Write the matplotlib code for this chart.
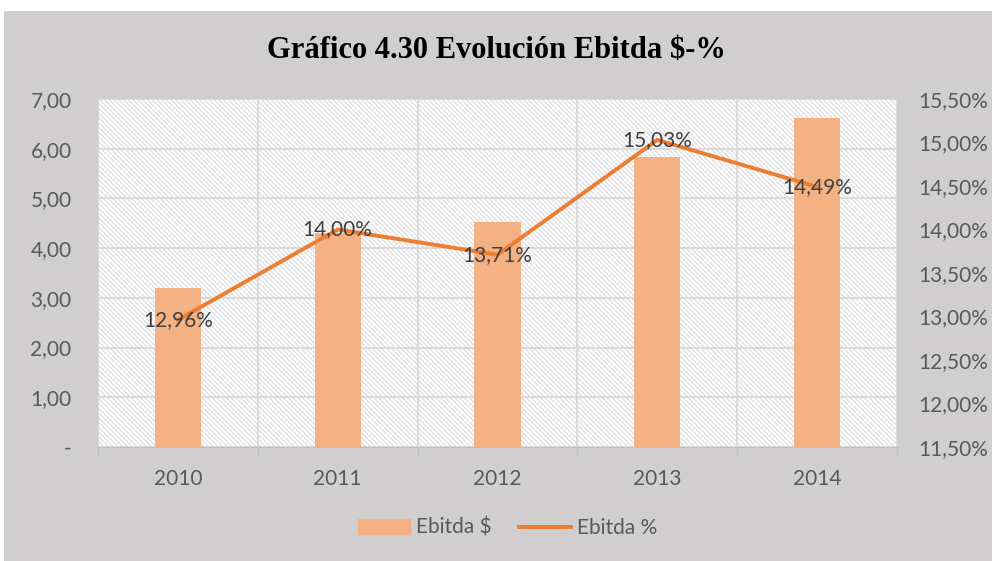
import numpy as np
import matplotlib.pyplot as plt
from matplotlib.patches import Rectangle
from matplotlib.lines import Line2D

years = ['2010', '2011', '2012', '2013', '2014']
ebitda_usd = [3.20, 4.30, 4.52, 5.83, 6.62]
ebitda_pct = [12.96, 14.00, 13.71, 15.03, 14.49]
pct_labels = ['12,96%', '14,00%', '13,71%', '15,03%', '14,49%']

bar_color = '#f4b183'
line_color = '#ed7d31'
bg = '#d0cece'
txt = '#595959'
tick_font = 'Lato'
fs = 15

plt.rcParams['hatch.linewidth'] = 1.1

fig = plt.figure(figsize=(9.92, 5.61), dpi=100, facecolor='white')
fig.patches.append(Rectangle((4 / 992, 0), 1, 1 - 11 / 561, transform=fig.transFigure,
                             facecolor=bg, edgecolor='none', zorder=-10))

ax = fig.add_axes([98 / 992, 1 - 447 / 561, 799 / 992, 348 / 561])
ax.set_facecolor('white')
ax.add_patch(Rectangle((0, 0), 1, 1, transform=ax.transAxes, facecolor='white',
                       edgecolor='#e3e3e3', hatch='\\' * 7, linewidth=0, zorder=0))

x = np.arange(len(years))
ax.bar(x, ebitda_usd, width=0.29, color=bar_color, zorder=3)
ax.set_xlim(-0.5, len(years) - 0.5)
ax.set_ylim(0, 7)
ax.set_yticks(np.arange(0, 8))
ax.set_yticklabels(['-'] + ['%d,00' % v for v in range(1, 8)])
ax.set_xticks(x)
ax.set_xticklabels(years)
ax.set_xticks(np.arange(-0.5, len(years)), minor=True)
ax.tick_params(axis='x', which='major', length=0, pad=16, labelsize=fs, labelcolor=txt)
ax.tick_params(axis='x', which='minor', length=6, color='#bfbfbf', width=1)
ax.tick_params(axis='y', length=0, pad=19, labelsize=fs, labelcolor=txt)
ax.grid(axis='y', color='#d9d9d9', linewidth=1.3, zorder=1)
ax.grid(axis='x', which='minor', color='#d9d9d9', linewidth=1.3, zorder=1)
ax.set_axisbelow(True)
for s in ['top', 'left', 'right']:
    ax.spines[s].set_visible(False)
ax.spines['bottom'].set_color('#bfbfbf')
for lab in ax.get_xticklabels() + ax.get_yticklabels():
    lab.set_fontfamily(tick_font)

ax2 = ax.twinx()
ax2.plot(x, ebitda_pct, color=line_color, linewidth=2.8, zorder=5, solid_capstyle='round')
ax2.set_ylim(11.5, 15.5)
rt = np.arange(11.5, 15.51, 0.5)
ax2.set_yticks(rt)
ax2.set_yticklabels([('%.2f%%' % v).replace('.', ',') for v in rt])
ax2.tick_params(axis='y', length=0, pad=15, labelsize=fs, labelcolor=txt)
for lab in ax2.get_yticklabels():
    lab.set_fontfamily(tick_font)
for s in ax2.spines.values():
    s.set_visible(False)
for xi, yi, lb in zip(x, ebitda_pct, pct_labels):
    ax2.text(xi, yi, lb, ha='center', va='center', fontsize=fs, color='#404040',
             fontfamily=tick_font, zorder=6)

fig.text(0.5, 1 - 50 / 561, 'Gráfico 4.30 Evolución Ebitda $-%', ha='center', va='center',
         fontsize=22, fontweight='bold', fontfamily='Liberation Serif')

handles = [Rectangle((0, 0), 1, 1, color=bar_color),
           Line2D([0], [0], color=line_color, linewidth=2.8)]
leg = fig.legend(handles, ['Ebitda $', 'Ebitda %'], loc='center', bbox_to_anchor=(0.512, 1 - 528 / 561),
                 ncol=2, frameon=False, prop={'family': tick_font, 'size': fs},
                 handlelength=2.5, columnspacing=1.3, handletextpad=0.3)
for t in leg.get_texts():
    t.set_color(txt)

fig.savefig('out.png', dpi=100, facecolor='white')
